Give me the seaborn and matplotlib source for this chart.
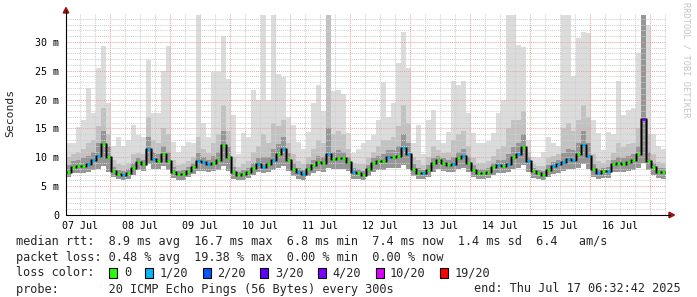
import numpy as np
import pandas as pd
import matplotlib
matplotlib.use("Agg")
import matplotlib.pyplot as plt
from matplotlib.patches import Rectangle, Polygon
from matplotlib.lines import Line2D
import seaborn as sns

# ---------------- data (2-hour steps, values in ms) ----------------
median = [7.4, 8.3, 8.5, 8.5, 8.9, 9.6, 10.2, 12.3, 10.0, 7.6,
          7.1, 7.0, 7.2, 8.2, 9.1, 8.8, 11.5, 9.7, 9.4, 10.6,
          9.4, 7.5, 7.1, 7.1, 7.6, 8.4, 9.3, 9.1, 8.8, 9.0,
          9.5, 12.2, 10.0, 7.5, 6.9, 7.1, 7.5, 8.1, 8.8, 8.4,
          8.8, 9.6, 10.5, 11.5, 9.5, 8.0, 7.4, 7.1, 8.0, 8.6,
          9.2, 9.0, 10.5, 9.7, 9.8, 9.8, 9.1, 7.4, 7.2, 7.0,
          7.9, 9.0, 9.4, 9.4, 10.1, 10.1, 10.2, 11.6, 10.5, 8.0,
          7.3, 7.2, 7.8, 9.0, 9.6, 9.0, 8.7, 8.9, 9.9, 10.3,
          9.0, 7.8, 7.3, 7.3, 7.5, 8.3, 8.7, 8.5, 8.8, 10.0,
          10.5, 11.8, 9.3, 7.6, 7.2, 7.0, 7.8, 8.5, 8.8, 9.1,
          9.7, 9.6, 10.5, 12.2, 10.3, 7.9, 7.3, 7.6, 7.6, 8.8,
          9.0, 8.9, 9.2, 9.5, 10.6, 16.7, 9.4, 8.3, 7.5, 7.4]

smoke_max = [12.4, 12.4, 15.2, 16.5, 22.0, 17.6, 25.4, 29.3, 19.4, 12.0,
             13.5, 12.0, 13.0, 15.6, 13.8, 13.5, 26.8, 17.6, 17.6, 24.9,
             29.2, 12.6, 11.0, 12.0, 12.6, 12.4, 34.6, 15.9, 13.5, 24.7,
             24.7, 31.0, 23.6, 17.3, 10.5, 14.2, 13.5, 21.6, 20.0, 34.6,
             19.9, 34.6, 24.4, 23.9, 17.0, 15.6, 12.6, 11.5, 14.4, 19.4,
             22.5, 18.0, 34.6, 21.5, 21.6, 21.0, 14.2, 10.7, 11.5, 12.5,
             13.0, 13.8, 16.4, 23.0, 17.0, 19.4, 26.3, 31.7, 25.4, 12.4,
             15.6, 10.5, 16.4, 18.2, 13.0, 12.5, 14.4, 23.3, 22.5, 23.3,
             17.6, 14.2, 12.4, 12.4, 12.8, 14.2, 17.6, 19.9, 34.6, 34.6,
             29.4, 29.1, 13.0, 10.0, 9.8, 10.9, 13.5, 12.5, 12.0, 34.6,
             34.6, 24.0, 30.6, 31.7, 31.5, 16.4, 14.2, 11.2, 14.4, 14.0,
             23.3, 17.3, 18.2, 18.5, 28.0, 34.6, 33.0, 14.0, 12.0, 11.5]

smoke_p90 = [10.0, 10.5, 11.0, 11.5, 12.5, 13.0, 15.5, 18.5, 14.0, 9.5,
             8.8, 8.6, 9.0, 10.5, 10.8, 10.5, 17.0, 13.0, 12.5, 15.0,
             14.0, 9.5, 8.6, 8.8, 9.3, 10.0, 13.5, 11.5, 10.8, 12.5,
             14.0, 19.0, 14.5, 10.0, 8.3, 8.8, 9.3, 11.0, 12.0, 14.0,
             12.5, 16.0, 15.5, 16.5, 12.5, 10.5, 9.3, 8.8, 10.0, 11.5,
             13.0, 12.5, 34.6, 14.0, 14.5, 14.0, 11.5, 9.0, 8.9, 8.8,
             9.8, 11.0, 12.0, 13.0, 13.0, 13.5, 15.5, 19.0, 16.0, 10.0,
             9.5, 8.6, 10.0, 12.0, 11.2, 10.8, 11.0, 13.0, 14.0, 14.5,
             12.0, 9.8, 9.0, 9.0, 9.3, 10.3, 11.5, 12.0, 15.0, 16.5,
             16.5, 18.0, 11.0, 8.8, 8.5, 8.5, 9.8, 10.3, 10.5, 15.0,
             16.0, 14.5, 16.5, 19.0, 17.0, 10.5, 9.3, 9.0, 9.5, 10.8,
             12.5, 11.8, 12.3, 12.5, 15.0, 34.6, 14.0, 10.5, 9.2, 9.0]

smoke_p70 = [8.6, 9.3, 9.6, 9.8, 10.3, 11.0, 12.5, 14.5, 12.0, 8.4,
             7.8, 7.7, 8.0, 9.0, 9.8, 9.6, 13.5, 11.0, 10.5, 12.0,
             11.0, 8.3, 7.7, 7.8, 8.3, 9.0, 10.8, 10.0, 9.6, 10.2,
             11.0, 14.5, 11.8, 8.4, 7.5, 7.8, 8.2, 9.0, 9.8, 10.0,
             10.0, 11.5, 12.3, 13.5, 10.8, 9.0, 8.2, 7.8, 8.8, 9.5,
             10.3, 10.0, 15.0, 11.0, 11.2, 11.0, 10.0, 8.1, 7.9, 7.7,
             8.7, 9.8, 10.3, 10.5, 11.2, 11.3, 12.0, 14.0, 12.5, 8.8,
             8.1, 7.8, 8.6, 9.9, 10.3, 9.8, 9.5, 10.0, 11.0, 11.5,
             10.0, 8.6, 8.0, 8.0, 8.2, 9.0, 9.6, 9.6, 10.5, 11.8,
             12.5, 14.0, 10.0, 8.2, 7.8, 7.6, 8.6, 9.2, 9.5, 10.8,
             11.5, 11.2, 12.5, 14.5, 12.5, 8.8, 8.0, 8.2, 8.3, 9.6,
             10.0, 9.8, 10.2, 10.5, 12.0, 34.6, 11.0, 9.0, 8.2, 8.1]

smoke_min = [6.6, 7.2, 7.3, 7.3, 7.5, 7.8, 8.0, 8.5, 7.5, 6.5,
             6.2, 6.1, 6.3, 7.0, 7.8, 7.6, 8.8, 8.0, 8.0, 8.5,
             7.8, 6.4, 6.1, 6.1, 6.5, 7.1, 7.6, 7.6, 7.5, 7.6,
             7.8, 8.5, 7.6, 6.3, 6.0, 6.1, 6.4, 6.9, 7.4, 7.2,
             7.4, 7.8, 8.2, 8.5, 7.6, 6.8, 6.3, 6.1, 6.8, 7.2,
             7.6, 7.5, 8.2, 7.9, 8.0, 8.0, 7.6, 6.3, 6.2, 6.0,
             6.7, 7.5, 7.8, 7.8, 8.2, 8.2, 8.2, 8.6, 8.0, 6.8,
             6.2, 6.2, 6.6, 7.5, 7.9, 7.6, 7.4, 7.5, 8.0, 8.2,
             7.5, 6.6, 6.2, 6.2, 6.4, 7.0, 7.3, 7.2, 7.4, 8.0,
             8.2, 8.6, 7.5, 6.4, 6.2, 6.0, 6.6, 7.1, 7.3, 7.6,
             7.9, 7.9, 8.2, 8.8, 8.0, 6.6, 6.2, 6.4, 6.4, 7.4,
             7.5, 7.5, 7.6, 7.8, 8.2, 9.0, 7.8, 7.0, 6.4, 6.3]

# lost pings (out of 20) per step
loss = [0, 0, 0, 0, 1, 1, 1, 0, 0, 0,
        0, 1, 0, 0, 0, 0, 1, 1, 0, 0,
        0, 0, 0, 0, 0, 0, 1, 1, 1, 0,
        0, 0, 0, 0, 0, 0, 0, 0, 1, 1,
        0, 1, 0, 1, 0, 0, 1, 1, 0, 0,
        0, 0, 1, 0, 0, 0, 0, 1, 0, 0,
        0, 0, 0, 0, 1, 0, 0, 1, 1, 0,
        0, 1, 0, 0, 0, 0, 0, 1, 0, 1,
        0, 0, 0, 0, 0, 0, 1, 0, 1, 0,
        1, 0, 1, 0, 0, 0, 0, 1, 1, 1,
        1, 1, 0, 1, 1, 0, 1, 0, 1, 0,
        0, 0, 0, 0, 0, 4, 0, 0, 0, 0]

loss_levels = [0, 1, 2, 3, 4, 10, 19]
loss_labels = ["0", "1/20", "2/20", "3/20", "4/20", "10/20", "19/20"]
loss_colors = ["#26ff00", "#00b8ff", "#0059ff", "#5e00ff", "#7e00ff", "#dd00ff", "#ff0000"]

day_labels = ["07 Jul", "08 Jul", "09 Jul", "10 Jul", "11 Jul",
              "12 Jul", "13 Jul", "14 Jul", "15 Jul", "16 Jul"]
y_ticks = [0, 5, 10, 15, 20, 25, 30]
y_tick_labels = ["0", "5 m", "10 m", "15 m", "20 m", "25 m", "30 m"]

stats_lines = [
    "median rtt:  8.9 ms avg  16.7 ms max  6.8 ms min  7.4 ms now  1.4 ms sd  6.4   am/s",
    "packet loss: 0.48 % avg  19.38 % max  0.00 % min  0.00 % now",
]
probe_line = "probe:       20 ICMP Echo Pings (56 Bytes) every 300s"
end_line = "end: Thu Jul 17 06:32:42 2025"

# ---------------- figure ----------------
W, H = 697, 297
sns.set_style("white")
plt.rcParams["font.family"] = ["DejaVu Sans Mono", "DejaVu Sans"]

fig = plt.figure(figsize=(W / 100, H / 100), dpi=100)
fig.patch.set_facecolor("white")


def P(x, y):
    return (x / W, 1 - y / H)


L, R, T, B = 66, 666, 13, 215
ax = fig.add_axes([L / W, 1 - B / H, (R - L) / W, (B - T) / H])
ax.set_facecolor("white")

n = len(median)
start = (6 + 32 / 60 + 42 / 3600) / 24.0  # days since 07 Jul 00:00
step = 2 / 24.0
edges = start + np.arange(n + 1) * step


def ext(a):
    a = np.asarray(a, dtype=float)
    return np.append(a, a[-1])


med = np.asarray(median)
ax.fill_between(edges, ext(smoke_min), ext(smoke_max), step="post",
                color="#dcdcdc", lw=0, zorder=1)
ax.fill_between(edges, ext(smoke_min), ext(smoke_p90), step="post",
                color="#c2c2c2", lw=0, zorder=1.1)
ax.fill_between(edges, ext(smoke_min), ext(smoke_p70), step="post",
                color="#969696", lw=0, zorder=1.2)

# grid
for d in np.arange(0, 11, 0.25):
    if start <= d <= start + 10:
        if abs(d - round(d)) < 1e-9:
            ax.axvline(d, color="#e8a6a6", lw=0.75, ls=(0, (1, 1)), zorder=2)
        else:
            ax.axvline(d, color="#cfcfcf", lw=0.75, ls=(0, (1, 1)), zorder=2)
for v in range(1, 35):
    if v % 5 == 0:
        ax.axhline(v, color="#e8a6a6", lw=0.75, ls=(0, (1, 1)), zorder=2)
    else:
        ax.axhline(v, color="#cfcfcf", lw=0.75, ls=(0, (1, 1)), zorder=2)

# median line via seaborn
df = pd.DataFrame({"t": edges, "rtt": ext(median)})
sns.lineplot(data=df, x="t", y="rtt", ax=ax, color="#505050", lw=2.0,
             drawstyle="steps-post", zorder=3, legend=False)
sns.lineplot(data=df, x="t", y="rtt", ax=ax, color="black", lw=0.8,
             drawstyle="steps-post", zorder=3.1, legend=False)

loss_arr = np.asarray(loss)
for lvl, col in zip(loss_levels, loss_colors):
    m = loss_arr == lvl
    if m.any():
        ax.hlines(med[m], edges[:-1][m] + 0.18 * step, edges[1:][m] - 0.18 * step,
                  colors=col, lw=2.0, zorder=4)

ax.set_xlim(start, start + 10)
ax.set_ylim(0, 35)
ax.set_xticks(np.arange(10) + 0.5)
ax.set_xticklabels(day_labels)
ax.set_yticks(y_ticks)
ax.set_yticklabels(y_tick_labels)
ax.tick_params(axis="both", length=0, labelsize=7.2, colors="black", pad=5)
ax.tick_params(axis="x", pad=4)
ax.set_xlabel("")
ax.set_ylabel("")
for s in ax.spines.values():
    s.set_visible(False)

# axes lines and arrows
fig.add_artist(Line2D([L / W, L / W], [1 - B / H, 1 - 10 / H], color="black", lw=0.8))
fig.add_artist(Line2D([L / W, 670 / W], [1 - B / H, 1 - B / H], color="black", lw=0.8))
fig.add_artist(Polygon([P(63.2, 13), P(68.8, 13), P(66, 7.5)], closed=True,
                       color="#a01010", transform=fig.transFigure))
fig.add_artist(Polygon([P(669, 212.2), P(669, 217.8), P(674.5, 215)], closed=True,
                       color="#a01010", transform=fig.transFigure))

# labels
fig.text(*P(10, 113), "Seconds", rotation=90, ha="center", va="center", fontsize=8.2)
fig.text(*P(686, 60), "RRDTOOL / TOBI OETIKER", rotation=270, ha="center",
         va="center", fontsize=6.2, color="#c4c4c4")

fs = 8.6
cw = 0.602 * fs * 100 / 72  # char width in px
x0 = 16
fig.text(*P(x0, 241), stats_lines[0], ha="left", va="center", fontsize=fs)
fig.text(*P(x0, 257), stats_lines[1], ha="left", va="center", fontsize=fs)
fig.text(*P(x0, 273), "loss color:", ha="left", va="center", fontsize=fs)
box_cols = [13, 18, 26, 34, 42, 50, 59]
for c, lab, col in zip(box_cols, loss_labels, loss_colors):
    bx = x0 + c * cw
    fig.add_artist(Rectangle(P(bx, 278), 8 / W, 10 / H, facecolor=col,
                             edgecolor="black", lw=0.8, transform=fig.transFigure))
    fig.text(*P(x0 + (c + 2) * cw, 273), lab, ha="left", va="center", fontsize=fs)
fig.text(*P(x0, 289), probe_line, ha="left", va="center", fontsize=fs)
fig.text(*P(681, 289), end_line, ha="right", va="center", fontsize=fs)

fig.savefig("out.png", dpi=100, facecolor="white")
